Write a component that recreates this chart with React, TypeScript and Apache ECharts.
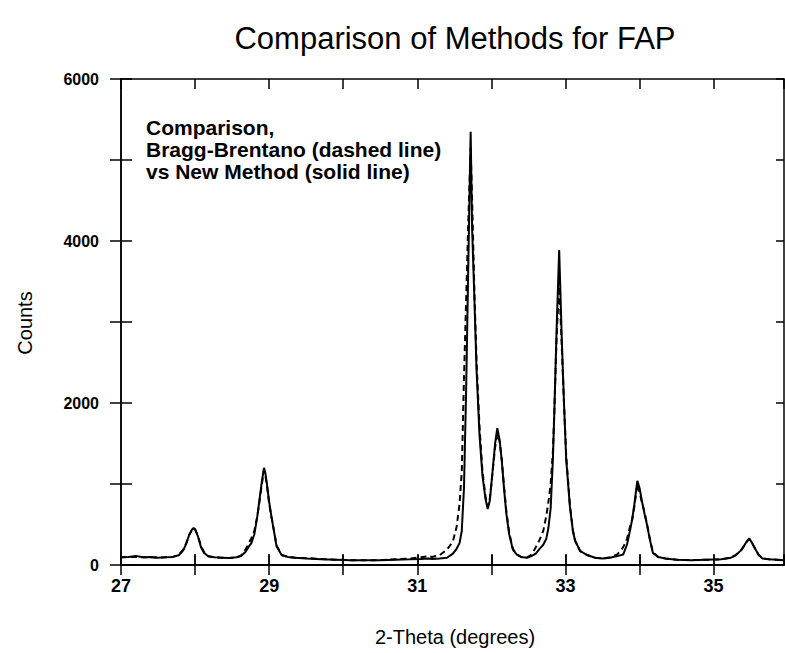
import React, { useEffect, useRef } from "react";
import * as echarts from "echarts";

const TITLE = "Comparison of Methods for FAP";
const X_NAME = "2-Theta (degrees)";
const Y_NAME = "Counts";
const NOTE_LINES = ["Comparison,", "Bragg-Brentano (dashed line)", "vs New Method (solid line)"];

const THETA = [
  27.0, 27.1, 27.2, 27.3, 27.4, 27.5, 27.6, 27.7, 27.78, 27.84, 27.88, 27.92, 27.96, 27.98, 28.0,
  28.04, 28.08, 28.12, 28.18, 28.26, 28.36, 28.46, 28.56, 28.62, 28.68, 28.72, 28.76, 28.8, 28.84,
  28.87, 28.9, 28.93, 28.95, 28.97, 29.0, 29.03, 29.07, 29.1, 29.17, 29.25, 29.35, 29.5, 29.7, 29.9,
  30.1, 30.3, 30.5, 30.7, 30.9, 31.05, 31.15, 31.2, 31.3, 31.4, 31.48, 31.53, 31.57, 31.6, 31.63,
  31.66, 31.69, 31.72, 31.74, 31.77, 31.8, 31.84, 31.88, 31.92, 31.95, 31.98, 32.02, 32.05, 32.08,
  32.11, 32.14, 32.17, 32.2, 32.24, 32.29, 32.34, 32.4, 32.48, 32.54, 32.6, 32.65, 32.7, 32.74,
  32.77, 32.8, 32.83, 32.85, 32.88, 32.915, 32.95, 32.98, 33.01, 33.06, 33.1, 33.13, 33.2, 33.3,
  33.4, 33.5, 33.6, 33.7, 33.78, 33.83, 33.87, 33.9, 33.93, 33.97, 34.0, 34.03, 34.07, 34.1, 34.14,
  34.18, 34.25, 34.35, 34.5, 34.7, 34.9, 35.1, 35.22, 35.3, 35.38, 35.44, 35.48, 35.52, 35.56, 35.61,
  35.66, 35.75, 35.85, 35.95,
];

const SOLID = [
  95, 100, 110, 95, 100, 90, 95, 100, 120, 180, 260, 370, 440, 455, 440,
  350, 220, 150, 105, 95, 90, 85, 95, 110, 160, 220, 270, 380, 600,
  810, 1020, 1200, 1130, 1000, 780, 600, 390, 230, 120, 100, 90, 80, 70, 65,
  60, 60, 60, 65, 70, 75, 80, 75, 80, 90, 140, 200, 270, 420, 950,
  2200, 3800, 5350, 4150, 3300, 2400, 1600, 1100, 820, 690, 800, 1200, 1500, 1690,
  1550, 1290, 950, 650, 380, 190, 130, 100, 90, 110, 140, 200, 250, 320,
  460, 700, 1300, 1900, 2900, 3890, 2800, 2000, 1300, 720, 420, 300, 170, 120,
  90, 80, 90, 110, 130, 250, 420, 560, 750, 1040, 950, 800, 620, 500, 310,
  150, 100, 80, 65, 60, 65, 70, 85, 120, 190, 280, 330, 270, 200, 120,
  80, 70, 65, 60,
];

const DASHED = [
  95, 98, 100, 95, 97, 92, 95, 100, 125, 190, 270, 370, 435, 450, 440,
  360, 235, 160, 110, 95, 90, 85, 95, 115, 190, 260, 330, 420, 600,
  790, 990, 1170, 1100, 980, 760, 600, 400, 240, 125, 100, 90, 85, 75, 65,
  60, 58, 60, 70, 80, 95, 110, 100, 120, 190, 290, 470, 750, 1150, 2300,
  3300, 4300, 5150, 4500, 3400, 2500, 1700, 1150, 850, 720, 830, 1180, 1450, 1620,
  1530, 1300, 980, 680, 400, 200, 130, 100, 95, 125, 220, 310, 420, 600,
  780, 1000, 1400, 1900, 2800, 3500, 2700, 2000, 1350, 740, 430, 300, 170, 120,
  90, 80, 95, 130, 220, 320, 470, 560, 720, 1000, 900, 780, 640, 510, 320,
  160, 100, 80, 65, 60, 65, 70, 90, 125, 195, 280, 320, 270, 205, 125,
  82, 70, 65, 60,
];

const X_MIN = 27;
const X_MAX = 35.95;
const X_LABELS = [27, 29, 31, 33, 35];
const Y_MIN = 0;
const Y_MAX = 6000;
const Y_LABELS = [0, 2000, 4000, 6000];

const FONT = "Liberation Sans, Arial, Helvetica, sans-serif";

export default function App() {
  const ref = useRef<HTMLDivElement>(null);
  useEffect(() => {
    document.body.style.margin = "0";
    if (!ref.current) return;
    const chart = echarts.init(ref.current, undefined, { renderer: "svg" });
    const axisLine = { show: true, lineStyle: { color: "#000", width: 1.5 } };
    const tickStyle = { color: "#000", width: 1.5 };
    const xBase = {
      type: "value" as const,
      min: X_MIN,
      max: X_MAX,
      interval: 1,
      splitLine: { show: false },
      axisLine,
    };
    const yBase = {
      type: "value" as const,
      min: Y_MIN,
      max: Y_MAX,
      interval: 1000,
      splitLine: { show: false },
      axisLine,
    };
    chart.setOption({
      animation: false,
      backgroundColor: "#fff",
      grid: { left: 121, right: 1, top: 79, bottom: 88, containLabel: false },
      xAxis: [
        {
          ...xBase,
          position: "bottom",
          axisTick: { show: true, inside: false, length: 10, lineStyle: tickStyle },
          axisLabel: {
            show: true,
            margin: 12,
            color: "#000",
            fontFamily: FONT,
            fontSize: 18,
            fontWeight: "bold",
            showMaxLabel: false,
            formatter: (v: number) => (X_LABELS.indexOf(Math.round(v)) >= 0 && Math.abs(v - Math.round(v)) < 1e-6 ? String(Math.round(v)) : ""),
          },
        },
        {
          ...xBase,
          position: "bottom",
          axisTick: { show: true, inside: true, length: 11, lineStyle: tickStyle },
          axisLabel: { show: false },
        },
        {
          ...xBase,
          position: "top",
          axisTick: { show: true, inside: false, length: 10, lineStyle: tickStyle },
          axisLabel: { show: false },
        },
        {
          ...xBase,
          position: "top",
          axisTick: { show: true, inside: true, length: 10, lineStyle: tickStyle },
          axisLabel: { show: false },
        },
      ],
      yAxis: [
        {
          ...yBase,
          position: "left",
          axisTick: { show: true, inside: false, length: 11, lineStyle: tickStyle },
          axisLabel: {
            show: true,
            margin: 22,
            color: "#000",
            fontFamily: FONT,
            fontSize: 16,
            fontWeight: "bold",
            formatter: (v: number) => (Y_LABELS.indexOf(Math.round(v)) >= 0 ? String(Math.round(v)) : ""),
          },
        },
        {
          ...yBase,
          position: "left",
          axisTick: { show: true, inside: true, length: 11, lineStyle: tickStyle },
          axisLabel: { show: false },
        },
        {
          ...yBase,
          position: "right",
          axisTick: { show: true, inside: true, length: 8, lineStyle: tickStyle },
          axisLabel: { show: false },
        },
      ],
      series: [
        {
          name: "Bragg-Brentano",
          type: "line",
          xAxisIndex: 0,
          yAxisIndex: 0,
          data: THETA.map((t, i) => [t, DASHED[i]]),
          showSymbol: false,
          symbol: "none",
          lineStyle: { color: "#000", width: 2, type: [6, 4] },
          z: 2,
        },
        {
          name: "New Method",
          type: "line",
          xAxisIndex: 0,
          yAxisIndex: 0,
          data: THETA.map((t, i) => [t, SOLID[i]]),
          showSymbol: false,
          symbol: "none",
          lineStyle: { color: "#000", width: 2 },
          z: 3,
        },
      ],
      graphic: [
        {
          type: "text",
          x: 455,
          y: 38,
          style: {
            text: TITLE,
            fill: "#000",
            font: `31px ${FONT}`,
            textAlign: "center",
            textVerticalAlign: "middle",
          },
        },
        {
          type: "text",
          x: 455,
          y: 637,
          style: {
            text: X_NAME,
            fill: "#000",
            font: `20px ${FONT}`,
            textAlign: "center",
            textVerticalAlign: "middle",
          },
        },
        {
          type: "text",
          x: 25,
          y: 323,
          rotation: Math.PI / 2,
          style: {
            text: Y_NAME,
            fill: "#000",
            font: `20px ${FONT}`,
            textAlign: "center",
            textVerticalAlign: "middle",
          },
        },
        {
          type: "text",
          x: 146,
          y: 116,
          style: {
            text: NOTE_LINES.join("\n"),
            fill: "#000",
            font: `bold 21px ${FONT}`,
            lineHeight: 22,
            textAlign: "left",
            textVerticalAlign: "top",
          },
        },
      ],
    });
    return () => chart.dispose();
  }, []);
  return <div ref={ref} style={{ width: 785, height: 653 }} />;
}
